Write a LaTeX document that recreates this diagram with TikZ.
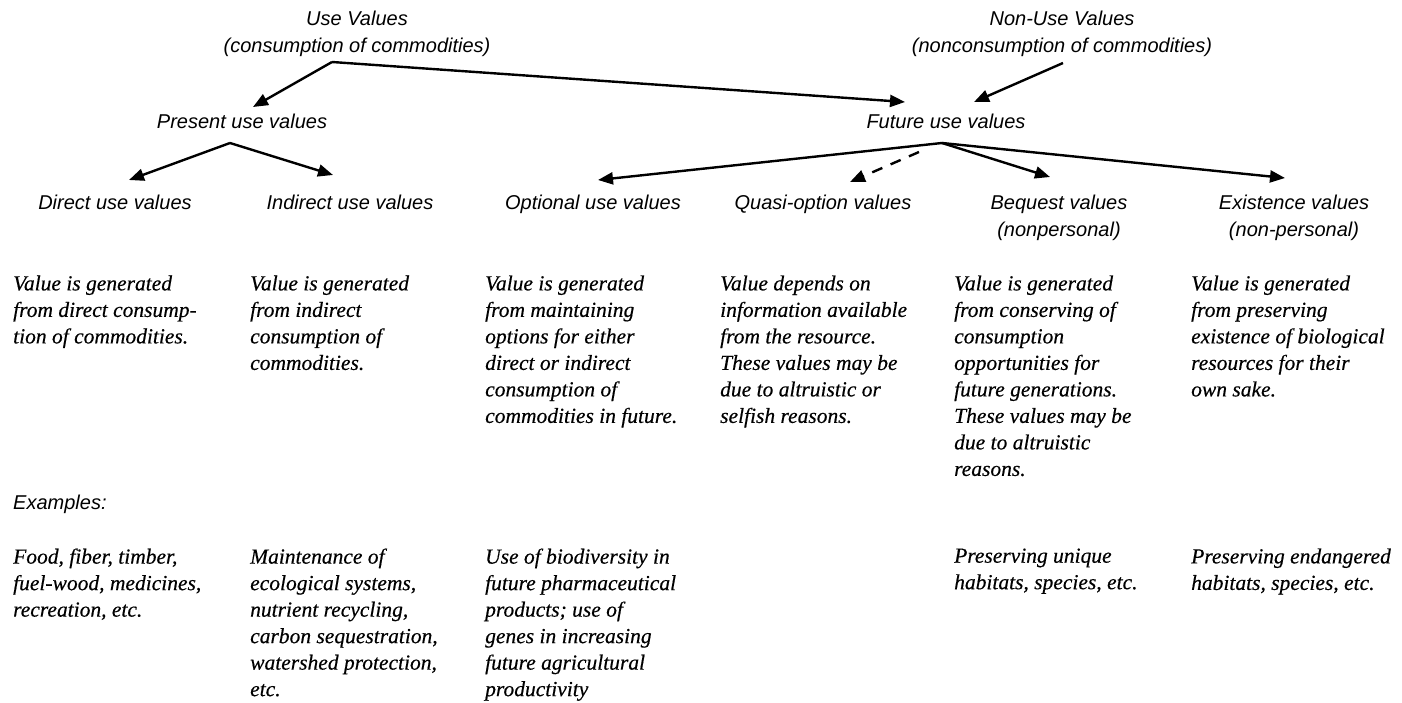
\documentclass[tikz,border=0pt]{standalone}
\usepackage{fontspec}
\usetikzlibrary{arrows.meta}
\newfontfamily\headfont{Liberation Sans}
\newfontfamily\descfont[FakeBold=0.4]{Liberation Serif}
\tikzset{
  lbl/.style={inner sep=0pt, anchor=north, align=center,
    font=\headfont\itshape\fontsize{20}{27}\selectfont},
  desc/.style={inner sep=0pt, anchor=north west, align=left,
    font=\descfont\itshape\fontsize{21.5}{26.5}\selectfont},
  arr/.style={line width=2.4pt, -{Triangle[length=15pt,width=12pt]}},
}
\begin{document}
\begin{tikzpicture}[x=1pt,y=-1pt]
    \useasboundingbox (0,0) rectangle (1402,703);

    % Top level
    \node[lbl] (use) at (357,10.5) {Use Values\\(consumption of commodities)};
    \node[lbl] (nonuse) at (1062,10.5) {Non-Use Values\\(nonconsumption of commodities)};

    % Second level
    \node[lbl] (present) at (242,113.6) {Present use values};
    \node[lbl] (future) at (946,113.6) {Future use values};

    % Third level
    \node[lbl] (direct) at (115,194.5) {Direct use values};
    \node[lbl] (indirect) at (350,194.5) {Indirect use values};
    \node[lbl] (optional) at (593,194.5) {Optional use values};
    \node[lbl] (quasi) at (823,194.5) {Quasi-option values};
    \node[lbl] (bequest) at (1059,194.5) {Bequest values\\(nonpersonal)};
    \node[lbl] (existence) at (1294,194.5) {Existence values\\(non-personal)};

    % Fork points
    \coordinate (usefork) at (332,62);
    \coordinate (nonusetail) at (1063,63);
    \coordinate (presfork) at (230,143);
    \coordinate (futfork) at (942,143);
    \coordinate (quasitail) at (919,152);

    % Connectors
    \draw[arr] (usefork) -- ([shift={(11,-6.6)}]present.north);
    \draw[arr] (usefork) -- ([shift={(-41,-11.6)}]future.north);
    \draw[arr] (nonusetail) -- ([shift={(28,-11.6)}]future.north);
    \draw[arr] (presfork) -- ([shift={(14,-14.5)}]direct.north);
    \draw[arr] (presfork) -- ([shift={(-17,-19.5)}]indirect.north);
    \draw[arr] (futfork) -- ([shift={(5,-14.5)}]optional.north);
    \draw[arr, dash pattern=on 11pt off 9pt] (quasitail) -- ([shift={(27,-12.5)}]quasi.north);
    \draw[arr] (futfork) -- ([shift={(-9,-17.5)}]bequest.north);
    \draw[arr] (futfork) -- ([shift={(-9,-16.5)}]existence.north);

    % Descriptions
    \node[desc] (ddirect) at (13,275.3) {Value is generated\\from direct consump-\\tion of commodities.};
    \node[desc] (dindirect) at (250,275.3) {Value is generated\\from indirect\\consumption of\\commodities.};
    \node[desc] (doptional) at (485,275.3) {Value is generated\\from maintaining\\options for either\\direct or indirect\\consumption of\\commodities in future.};
    \node[desc] (dquasi) at (720,275.3) {Value depends on\\information available\\from the resource.\\These values may be\\due to altruistic or\\selfish reasons.};
    \node[desc] (dbequest) at (954,275.3) {Value is generated\\from conserving of\\consumption\\opportunities for\\future generations.\\These values may be\\due to altruistic\\reasons.};
    \node[desc] (dexistence) at (1191,275.3) {Value is generated\\from preserving\\existence of biological\\resources for their\\own sake.};

    % Examples
    \node[lbl, anchor=north west] (examples) at (13,494.5) {Examples:};
    \node[desc] (edirect) at (13,548.3) {Food, fiber, timber,\\fuel-wood, medicines,\\recreation, etc.};
    \node[desc] (eindirect) at (250,548.3) {Maintenance of\\ecological systems,\\nutrient recycling,\\carbon sequestration,\\watershed protection,\\etc.};
    \node[desc] (eoptional) at (485,548.3) {Use of biodiversity in\\future pharmaceutical\\products; use of\\genes in increasing\\future agricultural\\productivity};
    \node[desc] (ebequest) at (954,548.3) {Preserving unique\\habitats, species, etc.};
    \node[desc] (eexistence) at (1191,548.3) {Preserving endangered\\habitats, species, etc.};
\end{tikzpicture}
\end{document}
